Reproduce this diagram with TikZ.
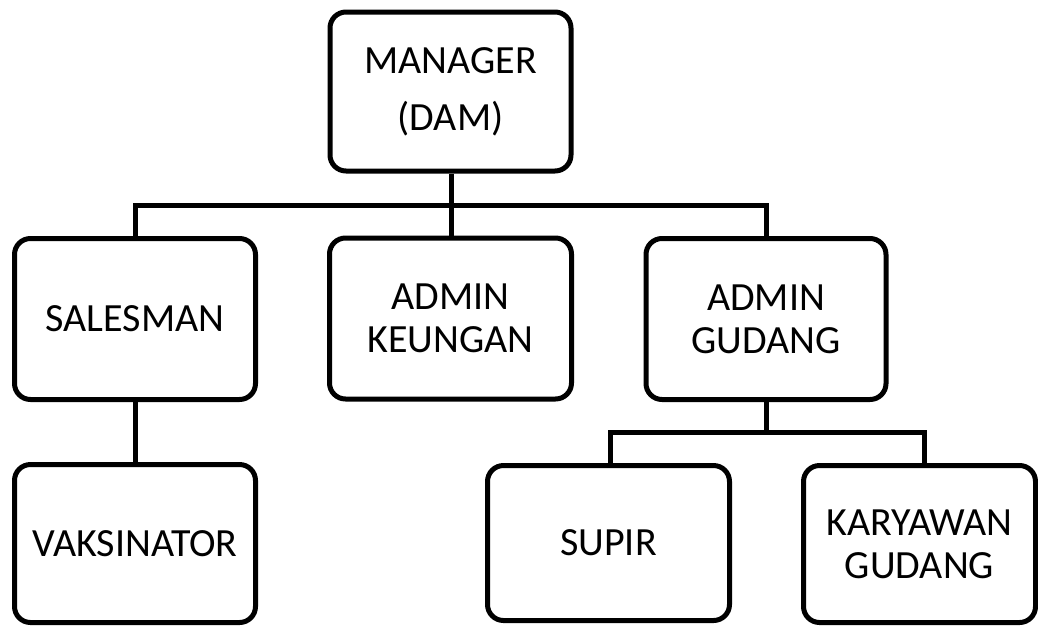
\documentclass[tikz,border=0pt]{standalone}
\usepackage{fontspec}
\setmainfont{Carlito}
\begin{document}
\begin{tikzpicture}[x=1pt,y=-1pt,
  box/.style={draw=black, line width=5pt, rounded corners=16pt, align=center,
    minimum width=241pt, minimum height=161pt, inner sep=0pt,
    font=\fontsize{40}{43}\selectfont},
  link/.style={draw=black, line width=5pt}]
\useasboundingbox (0,0) rectangle (1038,625);
\node[box, minimum height=159pt] (mgr) at (450.5,91.5) {MANAGER\\[14pt](DAM)};
\node[box] (sales) at (135,319) {SALESMAN};
\node[box, minimum width=242pt] (keu) at (450.5,318.5) {ADMIN\\KEUNGAN};
\node[box, minimum width=240pt] (gud) at (766,319) {ADMIN\\GUDANG};
\node[box, minimum height=158pt] (vak) at (135,543.5) {VAKSINATOR};
\node[box, minimum width=242pt, minimum height=155pt] (sup) at (608.5,543) {SUPIR};
\node[box, minimum width=232pt, minimum height=157pt] (kar) at (919.5,544) {KARYAWAN\\GUDANG};
\coordinate (bus1) at (451,205);
\coordinate (bus2) at (766,432);
\draw[link] (mgr.south -| bus1) -- (keu.north -| bus1);
\draw[link] (sales.north) |- (bus1) -| (gud.north);
\draw[link] (sales.south) -- (vak.north);
\draw[link] (gud.south) -- (bus2);
\draw[link] (sup.north -| 610,0) |- (bus2) -| (kar.north -| 924,0);
\end{tikzpicture}
\end{document}
